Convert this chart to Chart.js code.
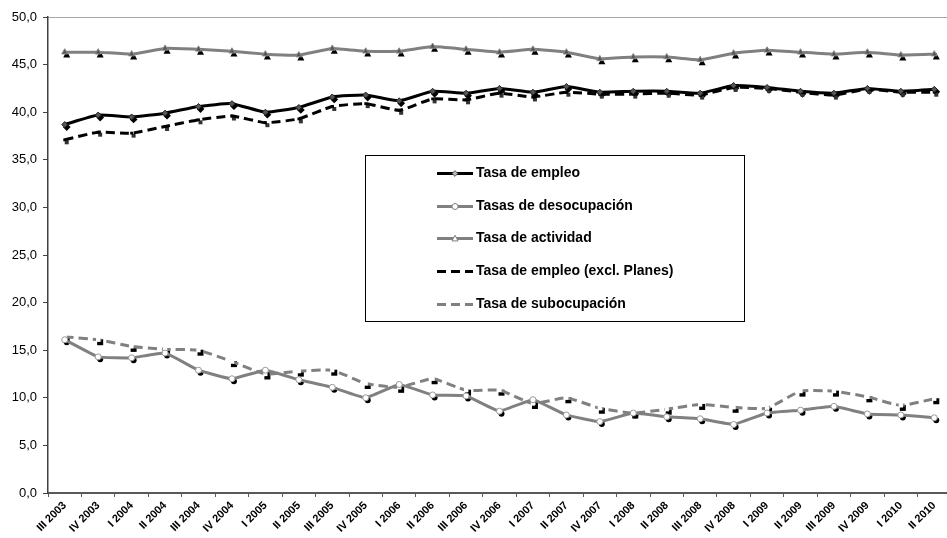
<!DOCTYPE html>
<html>
<head>
<meta charset="utf-8">
<script src="https://cdn.jsdelivr.net/npm/chart.js@4/dist/chart.umd.min.js"></script>
<style>
  html, body { margin: 0; padding: 0; background: #fff; overflow: hidden; }
  #wrap { position: absolute; left: 0; top: 0; width: 956px; height: 538px; }
</style>
</head>
<body>
<div id="wrap"><canvas id="c"></canvas></div>
<script>
// ---- data ----
const categories = ['III 2003','IV 2003','I 2004','II 2004','III 2004','IV 2004','I 2005','II 2005','III 2005','IV 2005','I 2006','II 2006','III 2006','IV 2006','I 2007','II 2007','IV 2007','I 2008','II 2008','III 2008','IV 2008','I 2009','II 2009','III 2009','IV 2009','I 2010','II 2010'];
const tasaEmpleo = [38.7, 39.7, 39.5, 39.9, 40.6, 40.9, 40.0, 40.5, 41.6, 41.8, 41.2, 42.2, 42.0, 42.5, 42.1, 42.7, 42.1, 42.2, 42.2, 42.0, 42.8, 42.6, 42.2, 42.0, 42.5, 42.2, 42.4];
const tasaDesocupacion = [16.1, 14.3, 14.2, 14.7, 12.9, 12.0, 12.9, 11.9, 11.1, 10.0, 11.4, 10.3, 10.2, 8.6, 9.8, 8.2, 7.5, 8.4, 8.0, 7.8, 7.2, 8.4, 8.7, 9.1, 8.3, 8.2, 7.9];
const tasaActividad = [46.3, 46.3, 46.1, 46.7, 46.6, 46.4, 46.1, 46.0, 46.7, 46.4, 46.4, 46.9, 46.6, 46.3, 46.6, 46.3, 45.6, 45.8, 45.8, 45.5, 46.2, 46.5, 46.3, 46.1, 46.3, 46.0, 46.1];
const tasaEmpleoExclPlanes = [37.1, 37.9, 37.8, 38.5, 39.2, 39.6, 38.9, 39.3, 40.6, 40.9, 40.2, 41.4, 41.3, 42.0, 41.6, 42.1, 41.9, 41.9, 42.0, 41.8, 42.6, 42.5, 42.1, 41.8, 42.4, 42.1, 42.1];
const tasaSubocupacion = [16.4, 16.1, 15.4, 15.1, 15.0, 13.8, 12.5, 12.8, 12.9, 11.5, 11.1, 12.0, 10.8, 10.8, 9.4, 10.0, 8.9, 8.4, 8.8, 9.3, 9.0, 8.9, 10.7, 10.7, 10.1, 9.2, 9.9];
const seriesNames = ['Tasa de empleo','Tasas de desocupación','Tasa de actividad','Tasa de empleo (excl. Planes)','Tasa de subocupación'];
const yMin = 0, yMax = 50, yStep = 5;

// ---- helpers ----
function shape(ctx, style, x, y, r) {
  ctx.beginPath();
  if (style === 'circle') {
    ctx.arc(x, y, r, 0, Math.PI * 2);
  } else if (style === 'rect') {
    ctx.rect(x - r, y - r, 2 * r, 2 * r);
  } else if (style === 'rectRot') {
    ctx.moveTo(x, y - r * 1.3); ctx.lineTo(x + r * 1.3, y); ctx.lineTo(x, y + r * 1.3); ctx.lineTo(x - r * 1.3, y);
    ctx.closePath();
  } else if (style === 'triangle') {
    ctx.moveTo(x, y - r * 1.1); ctx.lineTo(x + r, y + r * 0.8); ctx.lineTo(x - r, y + r * 0.8);
    ctx.closePath();
  }
}

const shadowPlugin = {
  id: 'markerShadow',
  beforeDatasetsDraw(chart) {
    const ctx = chart.ctx;
    ctx.save();
    chart.data.datasets.forEach((ds, i) => {
      if (!ds.shadowColor) return;
      const meta = chart.getDatasetMeta(i);
      ctx.fillStyle = ds.shadowColor;
      meta.data.forEach(el => {
        shape(ctx, ds.pointStyle, el.x + 2, el.y + 2.5, ds.pointRadius);
        ctx.fill();
      });
    });
    ctx.restore();
  }
};

const legendPlugin = {
  id: 'boxLegend',
  afterDraw(chart) {
    const ctx = chart.ctx;
    const L = 365, T = 155, R = 744, B = 321;
    ctx.save();
    ctx.fillStyle = '#fff';
    ctx.fillRect(L, T, R - L, B - T);
    ctx.strokeStyle = '#000';
    ctx.lineWidth = 1;
    ctx.strokeRect(L + 0.5, T + 0.5, R - L, B - T);
    const x0 = 437, x1 = 473, tx = 476;
    chart.data.datasets.forEach((ds, i) => {
      const y = Math.round(173 + i * 32.7) + 0.5;
      ctx.strokeStyle = ds.borderColor;
      ctx.lineWidth = 3;
      ctx.setLineDash(ds.borderDash || []);
      ctx.beginPath(); ctx.moveTo(x0, y); ctx.lineTo(x1, y); ctx.stroke();
      ctx.setLineDash([]);
      if (ds.legendMarker) {
        const m = ds.legendMarker;
        ctx.fillStyle = m.fill; ctx.strokeStyle = m.stroke; ctx.lineWidth = 1;
        shape(ctx, ds.pointStyle, (x0 + x1) / 2, y, m.r);
        ctx.fill(); ctx.stroke();
      }
      ctx.fillStyle = '#000';
      ctx.font = 'bold 14px "Liberation Sans", Arial, sans-serif';
      ctx.textBaseline = 'middle';
      ctx.textAlign = 'left';
      ctx.fillText(ds.label, tx, y);
    });
    ctx.restore();
  }
};

new Chart(document.getElementById('c'), {
  type: 'line',
  data: {
    labels: categories,
    datasets: [
      { label: seriesNames[0], data: tasaEmpleo, borderColor: '#000', borderWidth: 3, tension: 0.15,
        pointStyle: 'rectRot', pointRadius: 3, pointBackgroundColor: '#555', pointBorderColor: '#222', pointBorderWidth: 1,
        shadowColor: '#000', legendMarker: { fill: '#bbb', stroke: '#555', r: 2.2 } },
      { label: seriesNames[1], data: tasaDesocupacion, borderColor: '#808080', borderWidth: 3, tension: 0.1,
        pointStyle: 'circle', pointRadius: 3, pointBackgroundColor: '#fff', pointBorderColor: '#999', pointBorderWidth: 1,
        shadowColor: '#000', legendMarker: { fill: '#fff', stroke: '#808080', r: 3 } },
      { label: seriesNames[2], data: tasaActividad, borderColor: '#808080', borderWidth: 3, tension: 0.1,
        pointStyle: 'triangle', pointRadius: 3.5, pointBackgroundColor: '#555', pointBorderColor: '#888', pointBorderWidth: 1,
        shadowColor: '#000', legendMarker: { fill: '#fff', stroke: '#808080', r: 3 } },
      { label: seriesNames[3], data: tasaEmpleoExclPlanes, borderColor: '#000', borderWidth: 3, borderDash: [9, 5], tension: 0.15,
        pointStyle: 'rect', pointRadius: 2, pointBackgroundColor: '#000', pointBorderWidth: 0,
        shadowColor: '#333' },
      { label: seriesNames[4], data: tasaSubocupacion, borderColor: '#808080', borderWidth: 3, borderDash: [9, 5], tension: 0.15,
        pointStyle: 'rect', pointRadius: 3, pointBackgroundColor: '#fff', pointBorderWidth: 0,
        shadowColor: '#000' }
    ]
  },
  options: {
    responsive: true,
    maintainAspectRatio: false,
    animation: false,
    devicePixelRatio: 1,
    layout: { padding: { top: 17, right: 0, left: 0, bottom: 0 } },
    plugins: { legend: { display: false }, tooltip: { enabled: false } },
    scales: {
      x: {
        type: 'category',
        offset: true,
        grid: { offset: true, drawOnChartArea: false, drawTicks: true, tickLength: 4, tickColor: '#595959', tickWidth: 1 },
        border: { color: '#595959', width: 2 },
        ticks: { autoSkip: false, minRotation: 45, maxRotation: 45, padding: 2, color: '#000',
          font: { family: '"Liberation Sans", Arial, sans-serif', size: 11, weight: 'bold' } },
        afterFit(scale) { scale.height = 45; }
      },
      y: {
        min: yMin, max: yMax,
        ticks: { stepSize: yStep, padding: 6, color: '#000',
          font: { family: '"Liberation Sans", Arial, sans-serif', size: 13 },
          callback: v => v.toFixed(1).replace('.', ',') },
        grid: { color: c => (c.tick && c.tick.value === yMax) ? '#a6a6a6' : 'rgba(0,0,0,0)',
          tickColor: '#404040', tickLength: 5, lineWidth: 1 },
        border: { color: '#404040', width: 1.5 },
        afterFit(scale) { scale.width = 48; }
      }
    }
  },
  plugins: [shadowPlugin, legendPlugin]
});
</script>
</body>
</html>
